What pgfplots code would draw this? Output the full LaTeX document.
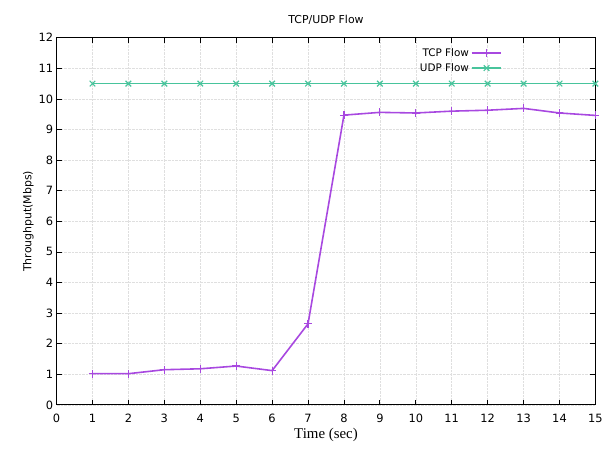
\documentclass[border=0pt]{standalone}
\usepackage{pgfplots}
\pgfplotsset{compat=1.18}
\usepackage{fontspec}
\setmainfont{DejaVu Sans}
\newfontfamily\serifx{Liberation Serif}
\definecolor{tcp}{HTML}{A848E0}
\definecolor{udp}{HTML}{48C49C}
\begin{document}
\begin{tikzpicture}
\begin{axis}[
  at={(0,0)}, anchor=south west,
  scale only axis, width=543pt, height=370pt,
  xmin=0, xmax=15, ymin=0, ymax=12,
  xtick={0,...,15}, ytick={0,...,12},
  tick align=inside, major tick length=5pt,
  tick style={black, line width=0.8pt},
  axis line style={black, line width=1.2pt},
  grid=major, grid style={densely dotted, gray!25, line width=0.6pt},
  /pgf/number format/assume math mode=true,
  tick label style={font=\fontsize{11.5}{13}\selectfont},
  xticklabel style={yshift=-6pt},
  title={TCP/UDP Flow}, title style={font=\fontsize{11}{13}\selectfont, yshift=4pt},
  xlabel={\serifx Time (sec)}, xlabel style={font=\fontsize{15}{17}\selectfont, yshift=2pt},
  ylabel={Throughput(Mbps)}, ylabel style={font=\fontsize{11}{13}\selectfont, yshift=-2pt},
  legend style={draw=none, fill=none, at={(0.833,0.982)}, anchor=north east,
    font=\fontsize{10.5}{12}\selectfont, row sep=1.5pt},
  legend cell align=right, legend plot pos=right,
  legend image code/.code={\draw[mark repeat=2,mark phase=2] plot coordinates {(0pt,0pt)(15pt,0pt)(30pt,0pt)};},
]
\addplot[tcp, line width=1.6pt, mark=+, mark size=4pt, mark options={line width=1.2pt}] coordinates {
(1,1.02)(2,1.02)(3,1.15)(4,1.18)(5,1.27)(6,1.12)(7,2.65)(8,9.47)(9,9.56)(10,9.54)(11,9.60)(12,9.63)(13,9.69)(14,9.54)(15,9.46)};
\addlegendentry{TCP Flow}
\addplot[udp, line width=1.6pt, mark=x, mark size=4pt, mark options={line width=1.2pt}] coordinates {
(1,10.5)(2,10.5)(3,10.5)(4,10.5)(5,10.5)(6,10.5)(7,10.5)(8,10.5)(9,10.5)(10,10.5)(11,10.5)(12,10.5)(13,10.5)(14,10.5)(15,10.5)};
\addlegendentry{UDP Flow}
\end{axis}
\path[use as bounding box] (-57pt,-44pt) rectangle (549pt,408pt);
\end{tikzpicture}
\end{document}
